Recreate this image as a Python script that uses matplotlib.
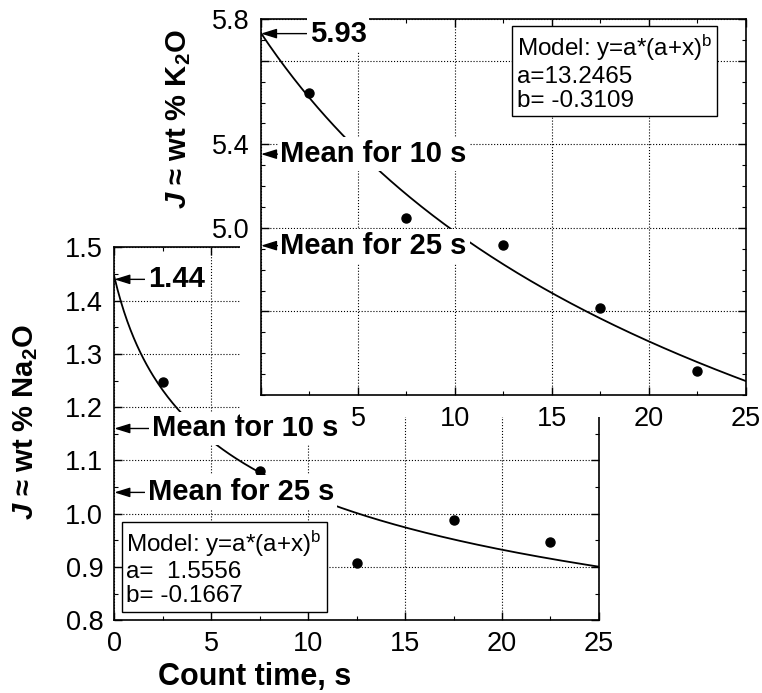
import matplotlib
matplotlib.use('Agg')
import matplotlib.pyplot as plt
import numpy as np
from matplotlib.patches import Rectangle
from matplotlib.ticker import MultipleLocator, FormatStrFormatter

plt.rcParams['font.family'] = ['Liberation Sans', 'DejaVu Sans']
plt.rcParams['mathtext.fontset'] = 'custom'
plt.rcParams['mathtext.rm'] = 'Liberation Sans'
plt.rcParams['mathtext.it'] = 'Liberation Sans:italic'
plt.rcParams['mathtext.bf'] = 'Liberation Sans:bold'
plt.rcParams['mathtext.bfit'] = 'Liberation Sans:italic:bold'

# count time bins (s)
count_time = [2.5, 7.5, 12.5, 17.5, 22.5]

# Na2O panel
na_values = [1.247, 1.080, 0.907, 0.988, 0.946]
na_a, na_b = 1.5556, -0.1667
na_marks = [1.44, 1.16, 1.04]
na_mark_labels = ['1.44', 'Mean for 10 s', 'Mean for 25 s']

# K2O panel
k_values = [5.645, 5.047, 4.917, 4.617, 4.317]
k_a, k_b = 13.2465, -0.3109
k_marks = [5.93, 5.353, 4.915]
k_mark_labels = ['5.93', 'Mean for 10 s', 'Mean for 25 s']
k_yticks = [4.6, 5.0, 5.4, 5.8, 6.0]
k_yticklabels = ['', '5.0', '5.4', '', '5.8']
k_xticks = [0, 5, 10, 15, 20, 25]
k_xticklabels = ['', '5', '10', '15', '20', '25']


def style_axes(ax):
    ax.tick_params(which='both', direction='in', top=True, right=True,
                   labelsize=19.5, pad=8)
    ax.tick_params(which='major', length=6, width=1)
    ax.tick_params(which='minor', length=3, width=0.8)
    ax.grid(True, which='major', linestyle=':', color='black', linewidth=0.8)
    for s in ax.spines.values():
        s.set_linewidth(1.2)


def mark_levels(ax, levels, labels, offsets):
    for y, lab, dx in zip(levels, labels, offsets):
        ax.annotate(lab, xy=(0, y), xytext=(dx, 0), textcoords='offset points',
                    ha='left', va='center', fontsize=21, fontweight='bold',
                    annotation_clip=False,
                    bbox=dict(boxstyle='square,pad=0.1', fc='white', ec='none'),
                    arrowprops=dict(arrowstyle='-|>,head_length=0.45,head_width=0.14',
                                    color='black', lw=1, shrinkA=0, shrinkB=0,
                                    relpos=(0, 0.5)))


def model_text(a, b, a_fmt):
    return ('Model: y=a*(a+x)$^\\mathrm{b}$\n'
            + a_fmt.format(a) + '\n'
            + 'b= {:.4f}'.format(b))


fig = plt.figure(figsize=(7.62, 6.93), dpi=100)

# main (Na2O) axes
ax1 = fig.add_axes([0.150, 0.105, 0.636, 0.538])
xs = np.linspace(0, 25, 300)
ax1.plot(xs, na_a * (na_a + xs) ** na_b, color='black', lw=1.3)
ax1.plot(count_time, na_values, 'o', color='black', ms=6.5)
ax1.set_xlim(0, 25)
ax1.set_ylim(0.8, 1.5)
ax1.xaxis.set_major_locator(MultipleLocator(5))
ax1.xaxis.set_minor_locator(MultipleLocator(2.5))
ax1.yaxis.set_major_locator(MultipleLocator(0.1))
ax1.yaxis.set_minor_locator(MultipleLocator(0.05))
ax1.yaxis.set_major_formatter(FormatStrFormatter('%.1f'))
style_axes(ax1)
mark_levels(ax1, na_marks, na_mark_labels, [24, 27, 24])
ax1.text(0.025, 0.035, model_text(na_a, na_b, 'a=  {:.4f}'),
         transform=ax1.transAxes, fontsize=17.5, ha='left', va='bottom',
         linespacing=1.12,
         bbox=dict(boxstyle='square,pad=0.2', fc='white', ec='black', lw=1))
ax1.text(-0.184, 0.531, r'$\mathbfit{J}$ ≈ wt % Na$_\mathbf{2}$O',
         transform=ax1.transAxes, rotation=90, ha='center', va='center',
         fontsize=21, fontweight='bold')
ax1.text(0.289, -0.152, 'Count time, s', transform=ax1.transAxes,
         ha='center', va='center', fontsize=22, fontweight='bold')

# white backing behind the inset and its labels
fig.add_artist(Rectangle((0.315, 0.398), 0.685, 0.602, transform=fig.transFigure,
                         facecolor='white', edgecolor='none', zorder=1))

# inset (K2O) axes
ax2 = fig.add_axes([0.3425, 0.430, 0.6365, 0.5426])
ax2.set_zorder(2)
ax2.plot(xs, k_a * (k_a + xs) ** k_b, color='black', lw=1.3)
ax2.plot(count_time, k_values, 'o', color='black', ms=6.5)
ax2.set_xlim(0, 25)
ax2.set_ylim(4.2, 6.0)
ax2.set_xticks(k_xticks)
ax2.set_xticklabels(k_xticklabels)
ax2.xaxis.set_minor_locator(MultipleLocator(2.5))
ax2.set_yticks(k_yticks)
ax2.set_yticklabels(k_yticklabels)
ax2.yaxis.set_minor_locator(MultipleLocator(0.1))
style_axes(ax2)
mark_levels(ax2, k_marks, k_mark_labels, [35, 14, 14])
ax2.text(0.527, 0.962, model_text(k_a, k_b, 'a={:.4f}'),
         transform=ax2.transAxes, fontsize=17.5, ha='left', va='top',
         linespacing=1.12,
         bbox=dict(boxstyle='square,pad=0.2', fc='white', ec='black', lw=1))
ax2.text(-0.169, 0.734, r'$\mathbfit{J}$ ≈ wt % K$_\mathbf{2}$O',
         transform=ax2.transAxes, rotation=90, ha='center', va='center',
         fontsize=21, fontweight='bold')

fig.savefig('out.png', dpi=100)
